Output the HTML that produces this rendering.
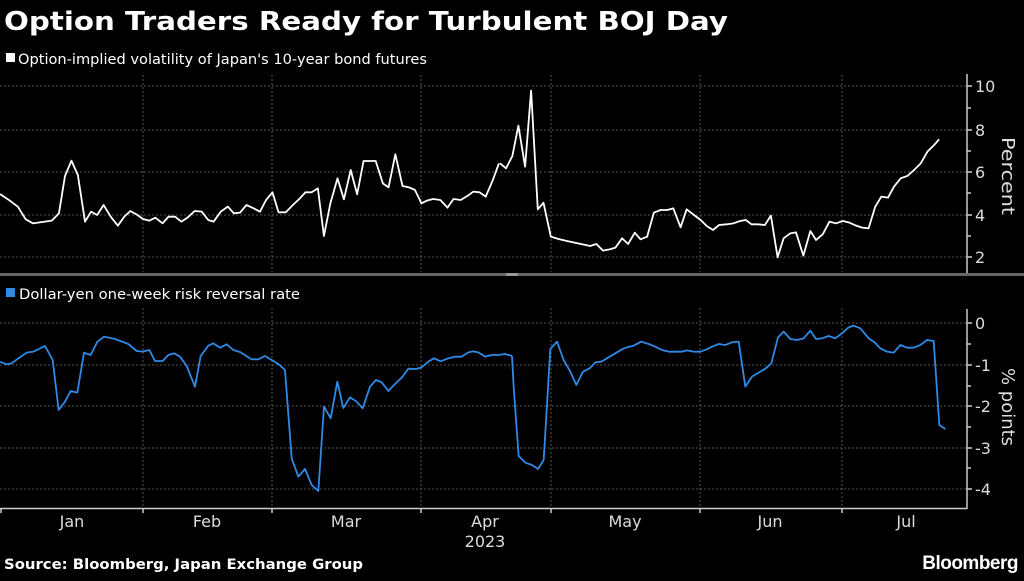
<!DOCTYPE html>
<html><head><meta charset="utf-8"><style>
html,body{margin:0;padding:0;background:#000;}
body{width:1024px;height:576px;overflow:hidden;}
</style></head><body>
<svg width="1024" height="576" viewBox="0 0 1024 576" xmlns="http://www.w3.org/2000/svg" font-family="DejaVu Sans, Liberation Sans, sans-serif">
<rect width="1024" height="576" fill="#000"/>
<text x="4" y="30" fill="#fff" font-size="26" font-weight="bold" textLength="724" lengthAdjust="spacingAndGlyphs">Option Traders Ready for Turbulent BOJ Day</text>
<rect x="6" y="53" width="9" height="9" fill="#fff"/>
<text x="18" y="64" fill="#fff" font-size="14" textLength="409" lengthAdjust="spacingAndGlyphs">Option-implied volatility of Japan's 10-year bond futures</text>
<rect x="6" y="288" width="9" height="9" fill="#2f8ae6"/>
<text x="19" y="299" fill="#fff" font-size="14" textLength="281" lengthAdjust="spacingAndGlyphs">Dollar-yen one-week risk reversal rate</text>
<g stroke="#555" stroke-width="1" stroke-dasharray="2,2">
<line x1="0" x2="967" y1="86" y2="86"/><line x1="0" x2="967" y1="130" y2="130"/><line x1="0" x2="967" y1="172" y2="172"/><line x1="0" x2="967" y1="215" y2="215"/><line x1="0" x2="967" y1="257" y2="257"/>
<line x1="0" x2="967" y1="323" y2="323"/><line x1="0" x2="967" y1="365" y2="365"/><line x1="0" x2="967" y1="406" y2="406"/><line x1="0" x2="967" y1="448" y2="448"/><line x1="0" x2="967" y1="489" y2="489"/>
<line x1="143" x2="143" y1="75" y2="272"/><line x1="272" x2="272" y1="75" y2="272"/><line x1="421" x2="421" y1="75" y2="272"/><line x1="551" x2="551" y1="75" y2="272"/><line x1="700" x2="700" y1="75" y2="272"/><line x1="842" x2="842" y1="75" y2="272"/>
<line x1="143" x2="143" y1="308" y2="508"/><line x1="272" x2="272" y1="308" y2="508"/><line x1="421" x2="421" y1="308" y2="508"/><line x1="551" x2="551" y1="308" y2="508"/><line x1="700" x2="700" y1="308" y2="508"/><line x1="842" x2="842" y1="308" y2="508"/>
</g>
<rect x="0" y="273" width="1024" height="3" fill="#666"/>
<rect x="506" y="273" width="12" height="3" fill="#999"/>
<g stroke="#ccc" stroke-width="1.5">
<line x1="967" x2="967" y1="74" y2="273"/><line x1="967" x2="967" y1="309" y2="509"/>
<line x1="0" x2="967" y1="508.5" y2="508.5"/>
<line x1="967" x2="972" y1="86" y2="86"/><line x1="967" x2="972" y1="130" y2="130"/><line x1="967" x2="972" y1="172" y2="172"/><line x1="967" x2="972" y1="215" y2="215"/><line x1="967" x2="972" y1="257" y2="257"/>
<line x1="967" x2="971" y1="108" y2="108"/><line x1="967" x2="971" y1="151" y2="151"/><line x1="967" x2="971" y1="193" y2="193"/><line x1="967" x2="971" y1="236" y2="236"/>
<line x1="967" x2="972" y1="323" y2="323"/><line x1="967" x2="972" y1="365" y2="365"/><line x1="967" x2="972" y1="406" y2="406"/><line x1="967" x2="972" y1="448" y2="448"/><line x1="967" x2="972" y1="489" y2="489"/>
<line x1="967" x2="971" y1="344" y2="344"/><line x1="967" x2="971" y1="386" y2="386"/><line x1="967" x2="971" y1="427" y2="427"/><line x1="967" x2="971" y1="468" y2="468"/>
<line x1="1" x2="1" y1="508" y2="513"/><line x1="143" x2="143" y1="508" y2="513"/><line x1="272" x2="272" y1="508" y2="513"/><line x1="421" x2="421" y1="508" y2="513"/><line x1="551" x2="551" y1="508" y2="513"/><line x1="700" x2="700" y1="508" y2="513"/><line x1="842" x2="842" y1="508" y2="513"/>
</g>
<g fill="#ddd" font-size="16">
<text x="975" y="92">10</text><text x="975" y="136">8</text><text x="975" y="178">6</text><text x="975" y="221">4</text><text x="975" y="263">2</text>
<text x="975" y="329">0</text><text x="975" y="371">-1</text><text x="975" y="412">-2</text><text x="975" y="454">-3</text><text x="975" y="495">-4</text>
</g>
<text transform="translate(1002,137) rotate(90)" fill="#ddd" font-size="18" textLength="78" lengthAdjust="spacingAndGlyphs">Percent</text>
<text transform="translate(1002,368) rotate(90)" fill="#ddd" font-size="18" textLength="78" lengthAdjust="spacingAndGlyphs">% points</text>
<g fill="#ddd" font-size="16" text-anchor="middle">
<text x="72" y="527">Jan</text><text x="207" y="527">Feb</text><text x="346" y="527">Mar</text><text x="485" y="527">Apr</text><text x="625" y="527">May</text><text x="770" y="527">Jun</text><text x="906" y="527">Jul</text>
<text x="485" y="547">2023</text>
</g>
<text x="4" y="569" fill="#fff" font-size="14" font-weight="bold" textLength="359" lengthAdjust="spacingAndGlyphs">Source: Bloomberg, Japan Exchange Group</text>
<text x="1018" y="569" fill="#fff" font-size="19" font-weight="bold" text-anchor="end" font-family="Liberation Sans, sans-serif" letter-spacing="-0.5">Bloomberg</text>
<g fill="none" stroke="#fff" stroke-width="1.8" stroke-linejoin="round">
<polyline transform="translate(0,70) scale(0.35714,0.33333)" vector-effect="non-scaling-stroke" points="0,372 25,390 50,410 72,448 92,460 145,452 165,430 182,318 200,272 218,315 238,455 255,425 272,435 290,405 310,440 330,467 348,440 365,423 385,435 400,447 418,452 435,443 455,460 472,440 490,440 508,455 525,443 545,423 565,425 583,450 598,455 618,425 638,410 655,430 672,428 690,405 710,415 728,425 745,390 763,367 780,427 800,427 820,405 838,387 855,367 872,367 890,355 907,498 925,400 945,325 963,388 982,300 1000,373 1018,273 1052,273 1072,340 1088,352 1107,253 1127,348 1145,352 1162,360 1180,400 1195,392 1213,387 1233,390 1253,413 1270,387 1290,390 1310,377 1325,365 1343,367 1360,380 1380,330 1397,280"/>
<polyline transform="translate(500,70) scale(0.33445,0.33333)" vector-effect="non-scaling-stroke" points="0,280 18,295 37,258 55,167 75,290 93,62 113,418 130,398 152,500 175,507 200,513 270,528 288,522 308,542 328,538 345,533 365,505 383,522 403,488 420,508 440,500 460,428 480,420 500,420 518,415 540,472 558,418 580,435 600,450 618,468 637,480 655,465 677,463 698,460 718,453 735,450 752,463 770,463 792,465 810,437 830,562 848,505 868,490 885,487 907,557 928,483 945,510 965,493 985,455 1005,460 1025,453 1045,458 1065,467 1083,473 1102,475 1122,410 1140,380 1160,383 1178,350 1198,325 1218,318 1238,300 1258,280 1278,245 1298,225 1313,208"/>
</g>
<g fill="none" stroke="#2f8ae6" stroke-width="1.8" stroke-linejoin="round">
<polyline transform="translate(0,280) scale(0.33333)" vector-effect="non-scaling-stroke" points="0,245 20,253 35,250 55,235 80,218 100,215 135,198 158,240 176,390 195,365 212,333 232,338 252,218 272,225 292,185 312,170 345,177 385,192 410,213 428,215 448,210 465,243 488,243 505,225 522,220 540,230 560,258 585,320 602,228 625,197 640,190 660,203 680,193 700,210 720,216 755,238 775,238 795,228 815,240 835,252 855,270 875,535 895,590 915,567 935,615 955,633 972,380 992,415 1012,305 1030,384 1050,352 1070,365 1088,385 1110,320 1128,300 1145,307 1165,333 1185,312 1205,293 1225,266 1248,267 1265,262 1285,245 1302,235 1322,244 1345,235 1365,230 1385,230 1405,217 1420,214 1435,217 1455,230 1475,225 1495,225 1515,222 1536,228"/>
<polyline transform="translate(512,280) scale(0.33333)" vector-effect="non-scaling-stroke" points="0,228 5,320 20,528 40,548 60,555 78,567 95,540 115,207 135,185 155,240 175,275 193,315 213,275 233,265 250,247 268,245 290,232 310,220 330,208 345,202 365,197 387,185 410,192 430,200 450,210 470,215 510,215 525,211 545,215 565,215 585,208 600,200 620,192 640,195 660,187 680,185 700,320 720,290 740,278 760,266 778,250 798,172 815,155 835,177 855,180 875,175 895,152 912,177 930,175 950,168 970,175 990,160 1010,142 1025,137 1045,145 1070,175 1088,187 1105,205 1125,215 1145,218 1165,195 1185,203 1205,203 1225,195 1245,180 1265,183 1282,435 1300,447"/>
</g>
</svg>
</body></html>
